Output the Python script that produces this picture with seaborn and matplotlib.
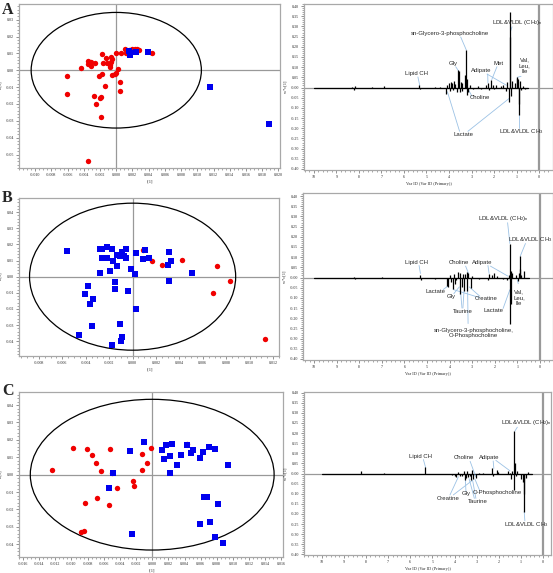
import numpy as np
import pandas as pd
import matplotlib
matplotlib.use('Agg')
import matplotlib.pyplot as plt
from matplotlib.patches import Ellipse
import seaborn as sns

# ---------------- score plots (t[1] / to[1]) ----------------
a_red_t = [0.0044, 0.0028, 0.0025, 0.0023, 0.0020, 0.0016, 0.0011, 0.0012, 0.0006, 0.0000,
           -0.0017, -0.0007, -0.0005, -0.0013, -0.0006, -0.0012, -0.0016, -0.0008, -0.0008, -0.0026,
           -0.0031, -0.0035, -0.0035, -0.0031, -0.0044, 0.0002, 0.0000, -0.0002, -0.0005, -0.0017,
           -0.0021, -0.0061, -0.0014, 0.0005, 0.0004, -0.0061, -0.0027, -0.0019, -0.0020, -0.0025,
           -0.0019, -0.0035]
a_red_to = [0.0101, 0.0120, 0.0124, 0.0124, 0.0128, 0.0120, 0.0124, 0.0101, 0.0101, 0.0101,
            0.0097, 0.0077, 0.0065, 0.0071, 0.0051, 0.0045, 0.0045, 0.0030, 0.0020, 0.0045,
            0.0051, 0.0053, 0.0037, 0.0024, 0.0016, 0.0008, -0.0016, -0.0020, -0.0030, -0.0022,
            -0.0034, -0.0037, -0.0093, -0.0067, -0.0122, -0.0140, -0.0154, -0.0160, -0.0166, -0.0201,
            -0.0280, -0.0540]
a_blue_t = [0.0016, 0.0017, 0.0017, 0.0024, 0.0039, 0.0116, 0.0188]
a_blue_to = [0.0116, 0.0101, 0.0091, 0.0110, 0.0110, -0.0097, -0.0318]

b_red_t = [0.00085, 0.00168, 0.0025, 0.00426, 0.0072, 0.0083, 0.0069, 0.0113]
b_red_to = [0.0164, 0.0099, 0.0072, 0.0106, 0.0064, -0.0025, -0.0101, -0.0385]
b_blue_t = [-0.0056, -0.0028, -0.0026, -0.0022, -0.0018, -0.0006, -0.0009, -0.0013, -0.0011, -0.0007,
            -0.0006, -0.0026, -0.0022, -0.0017, -0.0013, -0.0019, -0.0028, -0.0001, 0.0002, 0.0003,
            0.0011, 0.0014, 0.0009, 0.0031, 0.0033, 0.0030, 0.0031, 0.0051, -0.0015, -0.0015,
            -0.0038, -0.0041, -0.0034, -0.0036, -0.0004, 0.0003, -0.0035, -0.0011, -0.0046, -0.0009,
            -0.0010, -0.0018]
b_blue_to = [0.0161, 0.0170, 0.0170, 0.0182, 0.0172, 0.0172, 0.0155, 0.0135, 0.0126, 0.0128,
             0.0114, 0.0114, 0.0118, 0.0099, 0.0068, 0.0033, 0.0025, 0.0048, 0.0019, 0.0147,
             0.0164, 0.0118, 0.0112, 0.0151, 0.0097, 0.0075, -0.0029, 0.0025, -0.0035, -0.0075,
             -0.0058, -0.0106, -0.0139, -0.0170, -0.0091, -0.0199, -0.0306, -0.0294, -0.0358, -0.0373,
             -0.0398, -0.0424]

c_red_t = [-0.0124, -0.0098, -0.0081, -0.0074, -0.0070, -0.0064, -0.0052, -0.0050, -0.0013, -0.0001,
           -0.0007, -0.0013, -0.0024, -0.0022, -0.0044, -0.0068, -0.0054, -0.0083, -0.0085, -0.0088,
           0.0043]
c_red_to = [0.0025, 0.0152, 0.0146, 0.0112, 0.0067, 0.0023, 0.0146, 0.0012, 0.0119, 0.0152,
            0.0067, 0.0025, -0.0037, -0.0065, -0.0079, -0.0133, -0.0173, -0.0165, -0.0323, -0.0327,
            0.0179]
c_blue_t = [-0.0010, -0.0027, -0.0048, -0.0053, -0.0025, 0.0012, 0.0017, 0.0024, 0.0022, 0.0014,
            0.0031, 0.0036, 0.0043, 0.0048, 0.0051, 0.0063, 0.0059, 0.0070, 0.0078, 0.0094,
            0.0022, 0.0064, 0.0068, 0.0082, 0.0059, 0.0072, 0.0078, 0.0088]
c_blue_to = [0.0190, 0.0135, 0.0012, -0.0075, -0.0338, 0.0140, 0.0169, 0.0177, 0.0106, 0.0090,
             0.0056, 0.0112, 0.0169, 0.0125, 0.0144, 0.0133, 0.0098, 0.0158, 0.0146, 0.0054,
             0.0008, -0.0127, -0.0127, -0.0167, -0.0283, -0.0271, -0.0358, -0.0392]

# Hotelling ellipse half-axes (t, to)
ellipse_a = (0.0105, 0.0343)
ellipse_b = (0.0088, 0.0455)
ellipse_c = (0.0151, 0.0433)

# ---------------- loading spectra (ppm, w*c[1]) ----------------
spec_range = [10.0, 0.5]

a_ppm = [8.30, 8.22, 8.18, 7.40, 7.10, 6.90, 5.32, 5.28, 4.60, 4.40,
         4.12, 4.08, 4.00, 3.95, 3.92, 3.85, 3.80, 3.78, 3.72, 3.65,
         3.60, 3.55, 3.52, 3.47, 3.42, 3.40, 3.27, 3.23, 3.21, 3.19,
         3.15, 3.05, 2.95, 2.72, 2.60, 2.35, 2.28, 2.22, 2.12, 2.05,
         2.00, 1.90, 1.70, 1.58, 1.48, 1.42, 1.35, 1.31, 1.29, 1.25,
         1.20, 1.05, 1.00, 0.97, 0.94, 0.90, 0.88, 0.85, 0.80, 0.72, 0.62]
a_w = [0.004, -0.012, 0.006, 0.004, -0.003, 0.005, 0.012, -0.008, 0.003, 0.002,
       -0.030, 0.010, 0.020, -0.015, 0.025, 0.020, -0.012, 0.030, 0.015, -0.020,
       0.085, 0.080, -0.020, 0.025, -0.015, 0.020, 0.060, 0.184, -0.035, 0.040,
       -0.020, 0.010, -0.008, 0.005, -0.005, 0.010, 0.020, -0.012, 0.035, 0.012,
       -0.008, 0.010, 0.008, 0.010, -0.015, 0.025, -0.070, 0.369, 0.250, -0.040,
       0.030, 0.020, 0.050, 0.048, 0.040, -0.136, -0.080, 0.030, -0.010, 0.005, -0.008]

b_ppm = [8.25, 8.20, 7.00, 6.80, 5.32, 5.28, 4.65, 4.45, 4.12, 4.06,
         4.00, 3.92, 3.87, 3.80, 3.75, 3.70, 3.62, 3.56, 3.52, 3.46,
         3.42, 3.36, 3.30, 3.24, 3.21, 3.18, 3.05, 3.00, 2.70, 2.30,
         2.25, 2.12, 2.05, 1.90, 1.62, 1.45, 1.38, 1.33, 1.31, 1.29,
         1.26, 1.22, 1.05, 0.98, 0.94, 0.90, 0.87, 0.82, 0.70]
b_w = [0.004, -0.008, 0.003, -0.002, 0.012, -0.010, -0.006, -0.004, -0.040, -0.046,
       0.012, -0.020, -0.054, 0.015, -0.034, -0.012, 0.025, -0.079, 0.020, -0.046,
       0.018, -0.065, 0.015, 0.025, -0.067, 0.020, -0.050, 0.008, -0.005, -0.012,
       0.016, 0.010, 0.020, 0.006, -0.008, -0.012, 0.010, -0.226, 0.167, -0.128,
       0.030, 0.020, 0.010, -0.018, 0.020, 0.105, 0.040, 0.012, 0.033]

c_ppm = [8.22, 8.18, 7.20, 5.32, 5.28, 4.50, 4.10, 4.00, 3.92, 3.85,
         3.78, 3.65, 3.58, 3.55, 3.50, 3.44, 3.40, 3.30, 3.25, 3.22,
         3.19, 3.05, 2.90, 2.72, 2.30, 2.26, 2.10, 2.02, 1.60, 1.50,
         1.45, 1.40, 1.33, 1.31, 1.28, 1.25, 1.20, 1.00, 0.92, 0.88,
         0.86, 0.80, 0.70]
c_w = [0.010, -0.004, 0.003, 0.030, -0.004, -0.003, -0.006, -0.010, -0.015, 0.008,
       -0.012, -0.010, 0.012, -0.030, -0.020, 0.010, -0.018, -0.012, -0.030, 0.015,
       -0.025, -0.020, 0.004, 0.004, 0.025, -0.010, 0.018, 0.008, 0.010, 0.004,
       -0.025, 0.012, -0.082, 0.212, 0.050, -0.010, 0.010, -0.025, -0.040, -0.188,
       -0.100, -0.020, 0.006]

CH2n = r'LDL&VLDL (CH$_2$)$_n$'
CH3 = r'LDL&VLDL CH$_3$'
# label, text position, list of leader targets (start, end)
a_labels = [
    (CH2n, (0.98, 0.318), [((1.20, 0.298), (1.27, 0.274))]),
    ('sn-Glycero-3-phosphocholine', (3.94, 0.264), [((3.48, 0.248), (3.23, 0.184))]),
    ('Gly', (3.82, 0.118), [((3.70, 0.102), (3.58, 0.082))]),
    ('Met', (1.78, 0.118), [((1.87, 0.102), (2.10, 0.039))]),
    ('Adipate', (2.58, 0.082), [((2.28, 0.066), (2.27, 0.023)), ((2.31, 0.066), (1.45, 0.011))]),
    ('Val,\nLeu,\nIle', (0.64, 0.108), [((0.80, 0.055), (0.97, 0.050))]),
    ('Lipid CH', (5.45, 0.069), [((5.38, 0.052), (5.30, 0.010))]),
    ('Choline', (2.64, -0.051), [((2.98, -0.043), (3.14, -0.010))]),
    ('Lactate', (3.35, -0.230), [((3.53, -0.215), (4.07, -0.021)), ((3.16, -0.215), (1.33, -0.054))]),
    (CH3, (0.80, -0.218), [((0.90, -0.198), (0.90, -0.131))]),
]
b_labels = [
    (CH2n, (1.62, 0.289), [((1.43, 0.269), (1.33, 0.167))]),
    (CH3, (0.41, 0.187), [((0.64, 0.167), (0.87, 0.105))]),
    ('Lipid CH', (5.47, 0.075), [((5.35, 0.059), (5.29, 0.020))]),
    ('Choline', (3.60, 0.072), [((3.29, 0.056), (3.16, 0.020))]),
    ('Adipate', (2.57, 0.075), [((2.30, 0.059), (2.25, 0.020)), ((2.19, 0.056), (1.42, 0.007))]),
    ('Lactate', (4.64, -0.069), [((4.28, -0.059), (4.09, -0.043))]),
    ('Gly', (3.91, -0.092), [((3.81, -0.079), (3.57, -0.046))]),
    ('Creatine', (2.36, -0.105), [((2.69, -0.098), (3.84, -0.059)), ((2.66, -0.092), (3.13, -0.046))]),
    ('Taurine', (3.43, -0.169), [((3.45, -0.150), (3.52, -0.060)), ((3.41, -0.150), (3.36, -0.066))]),
    ('Lactate', (2.07, -0.164), [((1.63, -0.152), (1.33, -0.060))]),
    ('sn-Glycero-3-phosphocholine,\nO-Phosphocholine', (2.95, -0.273), [((3.18, -0.226), (3.20, -0.067))]),
    ('Val,\nLeu,\nIle', (0.92, -0.098), [((0.96, -0.030), (1.00, -0.010))]),
]
c_labels = [
    (CH2n, (0.75, 0.250), [((1.17, 0.229), (1.28, 0.210))]),
    ('Lipid CH', (5.56, 0.082), [((5.41, 0.069), (5.31, 0.029))]),
    ('Choline', (3.58, 0.077), [((3.30, 0.060), (3.05, -0.015))]),
    ('Adipate', (2.44, 0.078), [((2.26, 0.062), (2.23, 0.025)), ((2.14, 0.065), (1.50, 0.013))]),
    ('Creatine', (4.29, -0.123), [((4.21, -0.106), (3.83, -0.016)), ((4.06, -0.106), (3.19, -0.033))]),
    ('Gly', (3.47, -0.100), [((3.49, -0.087), (3.52, -0.021))]),
    ('Taurine', (2.93, -0.139), [((3.11, -0.123), (3.35, -0.025)), ((3.04, -0.123), (3.19, -0.033))]),
    ('O-Phosphocholine', (2.08, -0.096), [((2.86, -0.087), (3.08, -0.029))]),
    (CH3, (0.75, -0.253), [((0.83, -0.234), (0.86, -0.188))]),
]

sns.set_style('white')
plt.rcParams['font.family'] = ['Liberation Serif', 'DejaVu Serif']
plt.rcParams['mathtext.fontset'] = 'custom'
plt.rcParams['mathtext.rm'] = 'Liberation Sans'
plt.rcParams['mathtext.it'] = 'Liberation Sans'

GRAY = '#a8a8a8'
LEADER = '#9cc2e5'
RED = '#f00000'
BLUE = '#0000ee'

fig = plt.figure(figsize=(5.53, 5.73), dpi=100)


def style_axes(ax):
    for s in ax.spines.values():
        s.set_color(GRAY)
        s.set_linewidth(0.9)
    ax.tick_params(axis='both', which='major', labelsize=2.9, length=2.0, width=0.5,
                   color='#666666', pad=1.5, direction='out')
    ax.tick_params(axis='both', which='minor', length=1.2, width=0.4, color='#666666', direction='out')
    ax.tick_params(bottom=True, left=True, which='both')
    ax.grid(False)


def score_plot(rect, red_t, red_to, blue_t, blue_to, ell, xlim, ylim, xticks, yticks):
    ax = fig.add_axes(rect)
    df = pd.DataFrame({
        't': red_t + blue_t,
        'to': red_to + blue_to,
        'grp': ['r'] * len(red_t) + ['b'] * len(blue_t),
    })
    ax.axhline(0, color='#999999', lw=0.9, zorder=1)
    ax.axvline(0, color='#999999', lw=0.9, zorder=1)
    ax.add_patch(Ellipse((0, 0), 2 * ell[0], 2 * ell[1], fill=False, ec='black', lw=0.9, zorder=2))
    sns.scatterplot(data=df[df.grp == 'r'], x='t', y='to', color=RED, marker='o', s=15,
                    linewidth=0, ax=ax, zorder=3)
    sns.scatterplot(data=df[df.grp == 'b'], x='t', y='to', color=BLUE, marker='s', s=14,
                    linewidth=0, ax=ax, zorder=3)
    ax.set_xlim(*xlim)
    ax.set_ylim(*ylim)
    ax.set_xticks(xticks)
    ax.set_xticklabels(['%.3f' % v for v in xticks])
    ax.set_yticks(yticks)
    ax.set_yticklabels(['%.2f' % v for v in yticks])
    ax.minorticks_on()
    ax.set_xlabel('t[1]', fontsize=3.2, labelpad=2)
    ax.set_ylabel('to[1]', fontsize=3.2, labelpad=2)
    style_axes(ax)
    return ax


def spectrum_plot(rect, ppm, w, labels, xlim, ylim):
    ax = fig.add_axes(rect)
    ax.axhline(0, color='#999999', lw=0.9, zorder=1)
    ax.axvline(0, color='#999999', lw=1.6, zorder=1)
    ax.plot(spec_range, [0, 0], color='black', lw=0.9, zorder=2)
    ax.vlines(ppm, 0, w, color='black', lw=0.9, zorder=3)
    for text, pos, leaders in labels:
        for (x0, y0), (x1, y1) in leaders:
            ax.plot([x0, x1], [y0, y1], color=LEADER, lw=0.6, zorder=2)
        ax.text(pos[0], pos[1], text, ha='center', va='center', fontsize=4.3,
                family='Liberation Sans', linespacing=1.15, zorder=4, clip_on=False)
    ax.set_xlim(*xlim)
    ax.set_ylim(*ylim)
    ax.set_xticks(list(range(10, -1, -1)))
    ax.set_yticks(np.round(np.arange(-0.40, 0.401, 0.05), 2))
    ax.set_yticklabels(['%.2f' % v for v in np.round(np.arange(-0.40, 0.401, 0.05), 2)])
    ax.minorticks_on()
    ax.set_xlabel('Var ID (Var ID (Primary))', fontsize=3.2, labelpad=2)
    ax.set_ylabel('w*c[1]', fontsize=3.2, labelpad=2)
    style_axes(ax)
    return ax


H = 573.0
W = 553.0


def rect(l, r, t, b):
    return [l / W, 1 - b / H, (r - l) / W, (b - t) / H]


score_plot(rect(19, 280, 4, 168), a_red_t, a_red_to, a_blue_t, a_blue_to, ellipse_a,
           (-0.012, 0.0202), (-0.058, 0.0393),
           np.round(np.arange(-0.010, 0.0201, 0.002), 3), np.round(np.arange(-0.05, 0.031, 0.01), 2))
score_plot(rect(19, 279, 198, 356), b_red_t, b_red_to, b_blue_t, b_blue_to, ellipse_b,
           (-0.0097, 0.0125), (-0.0491, 0.0487),
           np.round(np.arange(-0.008, 0.0121, 0.002), 3), np.round(np.arange(-0.04, 0.041, 0.01), 2))
score_plot(rect(19, 283, 392, 557), c_red_t, c_red_to, c_blue_t, c_blue_to, ellipse_c,
           (-0.0165, 0.0162), (-0.0473, 0.0475),
           np.round(np.arange(-0.016, 0.0161, 0.002), 3), np.round(np.arange(-0.04, 0.041, 0.01), 2))

spectrum_plot(rect(304, 553, 4, 170), a_ppm, a_w, a_labels, (10.44, -0.62), (-0.405, 0.41))
spectrum_plot(rect(303, 553, 193, 360), b_ppm, b_w, b_labels, (10.49, -0.58), (-0.405, 0.415))
spectrum_plot(rect(304, 551, 392, 555), c_ppm, c_w, c_labels, (10.8, -0.35), (-0.403, 0.403))

for letter, top in [('A', 2), ('B', 190), ('C', 383)]:
    fig.text(2 / W, 1 - top / H, letter, ha='left', va='top', fontsize=11.5,
             fontweight='bold', family='Liberation Serif')

fig.savefig('out.png', dpi=100)
